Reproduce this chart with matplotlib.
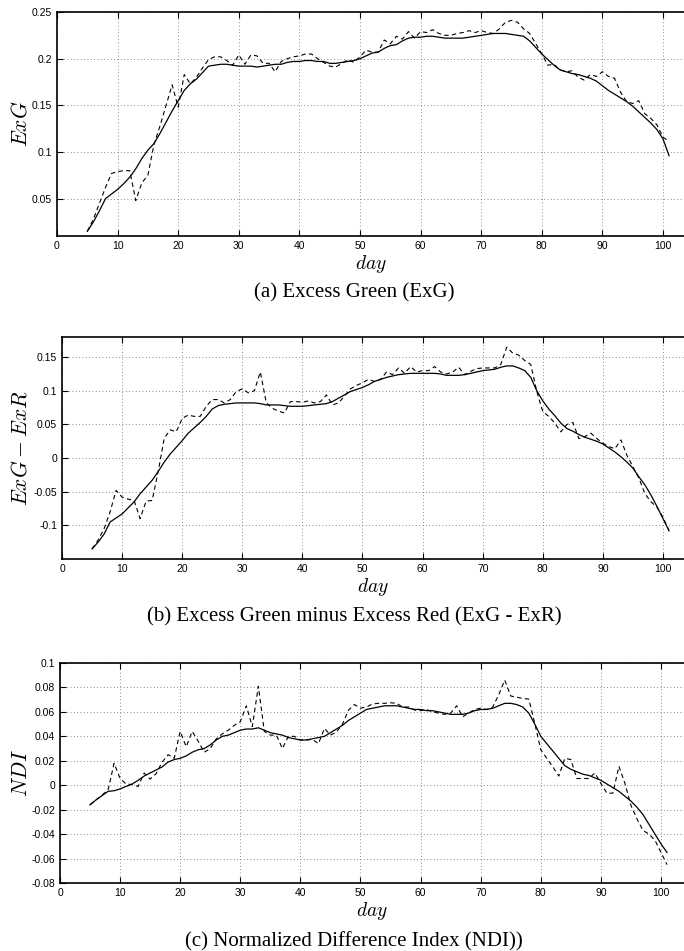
import matplotlib
matplotlib.use('Agg')
import matplotlib.pyplot as plt
import matplotlib.ticker as mticker

################################################################################
# Data
################################################################################
DAYS = list(range(5, 102))

exg_raw = [0.015, 0.028, 0.045, 0.062, 0.077,
           0.079, 0.080, 0.080, 0.048, 0.067, 0.075, 0.108, 0.128, 0.150, 0.172,
           0.148, 0.183, 0.173, 0.180, 0.190, 0.199, 0.202, 0.202, 0.198, 0.193,
           0.204, 0.194, 0.204, 0.203, 0.195, 0.195, 0.186, 0.197, 0.200, 0.202,
           0.203, 0.205, 0.205, 0.200, 0.196, 0.192, 0.191, 0.195, 0.199, 0.196,
           0.202, 0.209, 0.207, 0.207, 0.220, 0.216, 0.224, 0.221, 0.229, 0.222,
           0.229, 0.228, 0.231, 0.227, 0.225, 0.225, 0.227, 0.228, 0.230, 0.228,
           0.230, 0.228, 0.227, 0.232, 0.239, 0.241, 0.239, 0.232, 0.227, 0.216,
           0.205, 0.193, 0.194, 0.188, 0.186, 0.187, 0.180, 0.177, 0.183, 0.181,
           0.186, 0.181, 0.179, 0.164, 0.154, 0.152, 0.155, 0.141, 0.136, 0.129,
           0.116, 0.111]
exg_smooth = [0.015, 0.025, 0.037, 0.050, 0.055,
              0.060, 0.066, 0.073, 0.082, 0.093, 0.102, 0.109, 0.120, 0.132, 0.144,
              0.155, 0.166, 0.173, 0.178, 0.185, 0.192, 0.193, 0.194, 0.194, 0.193,
              0.192, 0.192, 0.192, 0.191, 0.192, 0.193, 0.194, 0.194, 0.196, 0.197,
              0.197, 0.198, 0.198, 0.197, 0.197, 0.195, 0.195, 0.196, 0.197, 0.198,
              0.200, 0.203, 0.206, 0.207, 0.211, 0.214, 0.215, 0.219, 0.222, 0.223,
              0.223, 0.224, 0.224, 0.223, 0.222, 0.222, 0.222, 0.222, 0.223, 0.224,
              0.225, 0.226, 0.227, 0.227, 0.227, 0.226, 0.225, 0.224, 0.219, 0.212,
              0.205, 0.199, 0.193, 0.188, 0.186, 0.184, 0.183, 0.181, 0.179, 0.176,
              0.171, 0.166, 0.162, 0.158, 0.154, 0.149, 0.143, 0.137, 0.131, 0.124,
              0.114, 0.096]

exr_raw = [-0.135, -0.122, -0.105, -0.080, -0.048,
           -0.058, -0.061, -0.063, -0.090, -0.064, -0.063, -0.020, 0.029, 0.042, 0.039,
           0.059, 0.064, 0.062, 0.062, 0.077, 0.087, 0.087, 0.082, 0.087, 0.099,
           0.103, 0.097, 0.100, 0.128, 0.082, 0.074, 0.070, 0.067, 0.084, 0.084,
           0.083, 0.085, 0.082, 0.084, 0.094, 0.079, 0.082, 0.092, 0.103, 0.108,
           0.112, 0.117, 0.114, 0.117, 0.128, 0.124, 0.134, 0.126, 0.136, 0.128,
           0.130, 0.130, 0.136, 0.128, 0.125, 0.128, 0.135, 0.124, 0.129, 0.133,
           0.134, 0.134, 0.134, 0.139, 0.165, 0.156, 0.153, 0.145, 0.139, 0.099,
           0.069, 0.062, 0.052, 0.039, 0.050, 0.053, 0.029, 0.032, 0.037, 0.029,
           0.022, 0.017, 0.014, 0.027, 0.004, -0.013, -0.030, -0.053, -0.065, -0.073,
           -0.088, -0.108]
exr_smooth = [-0.135, -0.125, -0.113, -0.095, -0.089,
              -0.083, -0.074, -0.065, -0.053, -0.043, -0.033, -0.020, -0.006, 0.006, 0.016,
              0.026, 0.037, 0.045, 0.053, 0.062, 0.073, 0.078, 0.080, 0.081, 0.082,
              0.082, 0.082, 0.082, 0.081, 0.079, 0.079, 0.079, 0.078, 0.077, 0.077,
              0.077, 0.078, 0.079, 0.080, 0.081, 0.084, 0.089, 0.094, 0.099, 0.102,
              0.105, 0.109, 0.114, 0.117, 0.120, 0.122, 0.124, 0.125, 0.126, 0.126,
              0.126, 0.126, 0.126, 0.125, 0.123, 0.123, 0.123, 0.124, 0.126, 0.128,
              0.130, 0.131, 0.132, 0.135, 0.137, 0.137, 0.134, 0.130, 0.120, 0.100,
              0.085, 0.073, 0.063, 0.052, 0.044, 0.040, 0.035, 0.031, 0.028, 0.025,
              0.021, 0.015, 0.009, 0.002, -0.006, -0.015, -0.028, -0.040, -0.055, -0.072,
              -0.090, -0.108]

ndi_raw = [-0.016, -0.012, -0.008, -0.004, 0.018,
           0.0055, 0.001, 0.0005, -0.001, 0.010, 0.005, 0.0095, 0.019, 0.025, 0.022,
           0.044, 0.0315, 0.044, 0.036, 0.027, 0.030, 0.038, 0.042, 0.045, 0.049,
           0.052, 0.065, 0.048, 0.081, 0.044, 0.041, 0.041, 0.030, 0.040, 0.040,
           0.037, 0.037, 0.0375, 0.034, 0.0465, 0.041, 0.0435, 0.050, 0.0615, 0.066,
           0.063, 0.064, 0.0665, 0.067, 0.067, 0.0675, 0.067, 0.064, 0.064, 0.0615,
           0.061, 0.062, 0.060, 0.059, 0.058, 0.059, 0.065, 0.056, 0.059, 0.062,
           0.063, 0.062, 0.064, 0.074, 0.086, 0.073, 0.072, 0.071, 0.0705, 0.0505,
           0.029, 0.022, 0.015, 0.0075, 0.022, 0.021, 0.0055, 0.0055, 0.0055, 0.010,
           0.0015, -0.0065, -0.0065, 0.0155, 0.0015, -0.0165, -0.0275, -0.037, -0.040, -0.045,
           -0.055, -0.065]
ndi_smooth = [-0.016, -0.012, -0.0085, -0.005, -0.0045,
              -0.003, -0.001, 0.001, 0.004, 0.0075, 0.010, 0.0125, 0.015, 0.019, 0.021,
              0.022, 0.024, 0.027, 0.029, 0.030, 0.033, 0.037, 0.040, 0.041, 0.043,
              0.045, 0.046, 0.046, 0.047, 0.045, 0.043, 0.042, 0.041, 0.039, 0.038,
              0.037, 0.037, 0.038, 0.039, 0.040, 0.043, 0.046, 0.049, 0.053, 0.056,
              0.059, 0.062, 0.063, 0.064, 0.065, 0.065, 0.065, 0.064, 0.063, 0.062,
              0.062, 0.061, 0.061, 0.060, 0.059, 0.058, 0.058, 0.058, 0.059, 0.061,
              0.062, 0.062, 0.063, 0.065, 0.067, 0.067, 0.066, 0.064, 0.059, 0.050,
              0.040, 0.034, 0.028, 0.022, 0.016, 0.013, 0.011, 0.009, 0.008, 0.006,
              0.004, 0.001, -0.002, -0.005, -0.009, -0.013, -0.018, -0.024, -0.032, -0.040,
              -0.048, -0.055]

X_TICKS = list(range(0, 101, 10))
EXG_TICKS = [0.05, 0.1, 0.15, 0.2, 0.25]
EXR_TICKS = [-0.1, -0.05, 0, 0.05, 0.1, 0.15]
NDI_TICKS = [-0.08, -0.06, -0.04, -0.02, 0, 0.02, 0.04, 0.06, 0.08, 0.1]

CAPTIONS = ['(a) Excess Green (ExG)',
            '(b) Excess Green minus Excess Red (ExG - ExR)',
            '(c) Normalized Difference Index (NDI))']
YLABELS = ['$ExG$', '$ExG-ExR$', '$NDI$']

################################################################################
# Plot
################################################################################
plt.rcParams['mathtext.fontset'] = 'cm'
plt.rcParams['axes.unicode_minus'] = False
plt.rcParams['font.family'] = ['Liberation Sans', 'DejaVu Sans']

W, H = 684, 951
fig = plt.figure(figsize=(W / 100, H / 100), dpi=100)

# left px, top px, bottom px, px per day, ylim, yticks, series, caption y px
panels = [
    (57, 12, 236, 6.06, (0.01, 0.25), EXG_TICKS, exg_raw, exg_smooth, 293),
    (62, 337, 559, 6.01, (-0.15, 0.18), EXR_TICKS, exr_raw, exr_smooth, 617),
    (60, 663, 883, 6.01, (-0.08, 0.1), NDI_TICKS, ndi_raw, ndi_smooth, 942),
]
RIGHT_PX = 692  # the right edge of each box falls just outside the picture

for i, (lp, tp, bp, ppd, ylim, yt, raw, smooth, cap_y) in enumerate(panels):
    ax = fig.add_axes([lp / W, 1 - bp / H, (RIGHT_PX - lp) / W, (bp - tp) / H])
    ax.plot(DAYS, raw, color='black', linewidth=0.8, linestyle='--',
            dashes=(4, 3))
    ax.plot(DAYS, smooth, color='black', linewidth=0.9)
    ax.set_xlim(0, (RIGHT_PX - lp) / ppd)
    ax.set_ylim(*ylim)
    ax.set_xticks(X_TICKS)
    ax.set_yticks(yt)
    ax.yaxis.set_major_formatter(mticker.FuncFormatter(lambda v, p: '%g' % round(v, 4)))
    ax.grid(True, linestyle=(0, (1, 3)), color='0.4', linewidth=0.6)
    ax.tick_params(direction='in', top=True, right=False, labelsize=7.5,
                   length=4.5, width=0.8, pad=3.5)
    for s in ax.spines.values():
        s.set_linewidth(1.2)
    ax.set_xlabel('$day$', fontsize=14)
    ax.xaxis.set_label_coords(0.5 * (W - lp) / (RIGHT_PX - lp) + 0.0, -0.075)
    ax.set_ylabel(YLABELS[i], fontsize=15.5, va='center')
    ax.yaxis.set_label_coords((21 - lp) / (RIGHT_PX - lp), 0.5)
    fig.text(354 / W, 1 - cap_y / H, CAPTIONS[i], ha='center', va='center',
             fontsize=15, family='Liberation Serif')

plt.savefig('out.png', dpi=100)
plt.close()
